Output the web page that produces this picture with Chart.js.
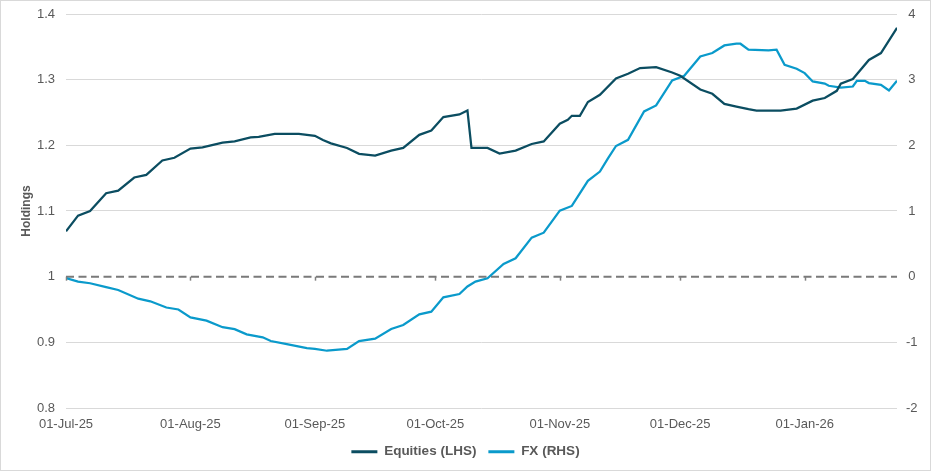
<!DOCTYPE html>
<html>
<head>
<meta charset="utf-8">
<script src="https://cdn.jsdelivr.net/npm/chart.js@4/dist/chart.umd.min.js"></script>
<style>
  body { margin: 0; background: #fff; }
  #wrap { width: 931px; height: 471px; position: relative; }
</style>
</head>
<body>
<div id="wrap"><canvas id="holdingsChart"></canvas></div>
<script>
// days counted from 01-Jul-25
const eqDays = [0, 3, 6, 10, 13, 17, 20, 24, 27, 31, 34, 39, 42, 46, 48, 52, 58, 62, 64, 66, 70, 73, 77, 81, 84, 88, 91, 94, 98, 100,
  101, 105, 108, 112, 116, 119, 123, 125, 126, 128, 130, 133, 137, 140, 143, 147, 151, 153, 158, 161, 164, 167, 170, 172, 178,
  182, 186, 189, 192, 193, 196, 200, 203, 207];
const eqValues = [1.069, 1.093, 1.100, 1.127, 1.131, 1.151, 1.155, 1.177, 1.181, 1.195, 1.197, 1.204, 1.206, 1.212, 1.213, 1.2175, 1.2175, 1.2145, 1.208, 1.203, 1.196, 1.187, 1.1845, 1.192, 1.196, 1.216, 1.2225, 1.243, 1.247, 1.253,
  1.196, 1.196, 1.1875, 1.192, 1.202, 1.206, 1.233, 1.239, 1.245, 1.245, 1.266, 1.277, 1.302, 1.309, 1.3177, 1.319, 1.311, 1.306, 1.285, 1.2785, 1.263, 1.259, 1.255, 1.253, 1.253,
  1.256, 1.268, 1.272, 1.283, 1.294, 1.301, 1.330, 1.3405, 1.379];

const fxDays = [0, 3, 6, 10, 13, 18, 21, 25, 28, 31, 35, 39, 42, 45, 49, 51, 55, 60, 62, 65, 70, 73, 77, 81, 84, 88, 91, 94, 98, 100,
  102, 105, 109, 112, 116, 119, 123, 126, 130, 133, 135, 137, 140, 144, 147, 151, 154, 158, 161, 164, 167, 168, 170, 175, 177, 179,
  182, 184, 186, 189, 190, 193, 196, 197, 199, 200, 203, 205, 207];
const fxValues = [-0.02, -0.076, -0.10, -0.16, -0.203, -0.335, -0.375, -0.47, -0.50, -0.62, -0.67, -0.77, -0.80, -0.878, -0.924, -0.98, -1.026, -1.087, -1.10, -1.128, -1.10, -0.98, -0.945, -0.797, -0.736, -0.573, -0.533, -0.314, -0.264, -0.15,
  -0.076, -0.024, 0.194, 0.28, 0.595, 0.67, 1.006, 1.077, 1.46, 1.60, 1.80, 1.99, 2.084, 2.516, 2.607, 2.988, 3.06, 3.354, 3.405, 3.521, 3.547, 3.547, 3.456, 3.445, 3.456, 3.227,
  3.166, 3.10, 2.973, 2.94, 2.907, 2.88, 2.896, 2.983, 2.983, 2.948, 2.922, 2.835, 2.983];

const monthDays = [0, 31, 62, 92, 123, 153, 184];
const monthLabels = ['01-Jul-25', '01-Aug-25', '01-Sep-25', '01-Oct-25', '01-Nov-25', '01-Dec-25', '01-Jan-26'];
const lastDay = 207;
const baseLevel = 1;

const txtColor = '#595959';
const eqColor = '#0B4D61';
const fxColor = '#0A9ACB';

Chart.defaults.font.family = '"Liberation Sans", Arial, sans-serif';
Chart.defaults.color = txtColor;

// small tick marks on the dashed axis line + outer frame
const extras = {
  id: 'extras',
  beforeDraw(chart) {
    const c = chart.ctx;
    c.save();
    c.fillStyle = '#fff';
    c.fillRect(0, 0, chart.width, chart.height);
    c.restore();
  },
  afterDraw(chart) {
    const c = chart.ctx;
    const xs = chart.scales.x, ys = chart.scales.y;
    const yy = ys.getPixelForValue(baseLevel);
    c.save();
    c.strokeStyle = '#7f7f7f';
    c.lineWidth = 1.5;
    monthDays.forEach(d => {
      const px = Math.round(xs.getPixelForValue(d)) + 0.5;
      c.beginPath();
      c.moveTo(px, yy);
      c.lineTo(px, yy + 4);
      c.stroke();
    });
    c.strokeStyle = '#d9d9d9';
    c.lineWidth = 1;
    c.strokeRect(0.5, 0.5, chart.width - 1, chart.height - 1);
    c.restore();
  }
};

// fixed axis sizes, no extra label padding above/below the plot
const fixY = w => s => { s.width = w; s.paddingTop = 0; s.paddingBottom = 0; };

const ctx = document.getElementById('holdingsChart').getContext('2d');
const chart = new Chart(ctx, {
  type: 'line',
  data: {
    datasets: [
      {
        label: 'Equities (LHS)',
        data: eqDays.map((d, i) => ({ x: d, y: eqValues[i] })),
        borderColor: eqColor,
        backgroundColor: eqColor,
        borderWidth: 2.25,
        pointRadius: 0,
        tension: 0,
        yAxisID: 'y'
      },
      {
        label: 'FX (RHS)',
        data: fxDays.map((d, i) => ({ x: d, y: fxValues[i] })),
        borderColor: fxColor,
        backgroundColor: fxColor,
        borderWidth: 2.25,
        pointRadius: 0,
        tension: 0,
        yAxisID: 'y2'
      },
      {
        label: 'base',
        data: [{ x: 0, y: baseLevel }, { x: lastDay, y: baseLevel }],
        borderColor: '#7a7a7a',
        borderWidth: 2,
        borderDash: [8, 4.5],
        pointRadius: 0,
        yAxisID: 'y'
      }
    ]
  },
  options: {
    responsive: true,
    maintainAspectRatio: false,
    animation: false,
    layout: { padding: { top: 14, bottom: 2.5, left: 0, right: 0 } },
    plugins: {
      tooltip: { enabled: false },
      legend: {
        position: 'bottom',
        labels: {
          boxWidth: 26,
          boxHeight: 3,
          padding: 12,
          color: txtColor,
          font: { size: 13.5, weight: 'bold' },
          filter: item => item.text !== 'base',
          generateLabels: ch => Chart.defaults.plugins.legend.labels.generateLabels(ch).map(it => {
            it.lineWidth = 0;
            it.fillStyle = it.strokeStyle;
            return it;
          })
        }
      }
    },
    scales: {
      x: {
        type: 'linear',
        min: 0,
        max: lastDay,
        grid: { display: false, drawTicks: false },
        border: { display: false },
        afterBuildTicks: s => { s.ticks = monthDays.map(v => ({ value: v })); },
        afterFit: s => { s.height = 25; },
        ticks: {
          autoSkip: false,
          maxRotation: 0,
          padding: 9,
          font: { size: 13 },
          callback: v => monthLabels[monthDays.indexOf(v)]
        }
      },
      y: {
        position: 'left',
        min: 0.8,
        max: 1.4,
        afterFit: fixY(66),
        grid: {
          color: c => (Math.abs(c.tick.value - baseLevel) < 1e-6 ? 'rgba(0,0,0,0)' : '#d9d9d9'),
          drawTicks: false
        },
        border: { display: false },
        title: {
          display: true,
          text: 'Holdings',
          color: txtColor,
          font: { size: 12, weight: 'bold' },
          padding: { top: 19, bottom: 0 }
        },
        ticks: {
          stepSize: 0.1,
          padding: 11,
          font: { size: 13 },
          callback: v => (Math.abs(v - 1) < 1e-6 ? '1' : v.toFixed(1))
        }
      },
      y2: {
        position: 'right',
        min: -2,
        max: 4,
        afterFit: fixY(34),
        grid: { display: false, drawTicks: false },
        border: { display: false },
        ticks: {
          stepSize: 1,
          padding: 9,
          crossAlign: 'center',
          font: { size: 13 }
        }
      }
    }
  },
  plugins: [extras]
});
</script>
</body>
</html>
